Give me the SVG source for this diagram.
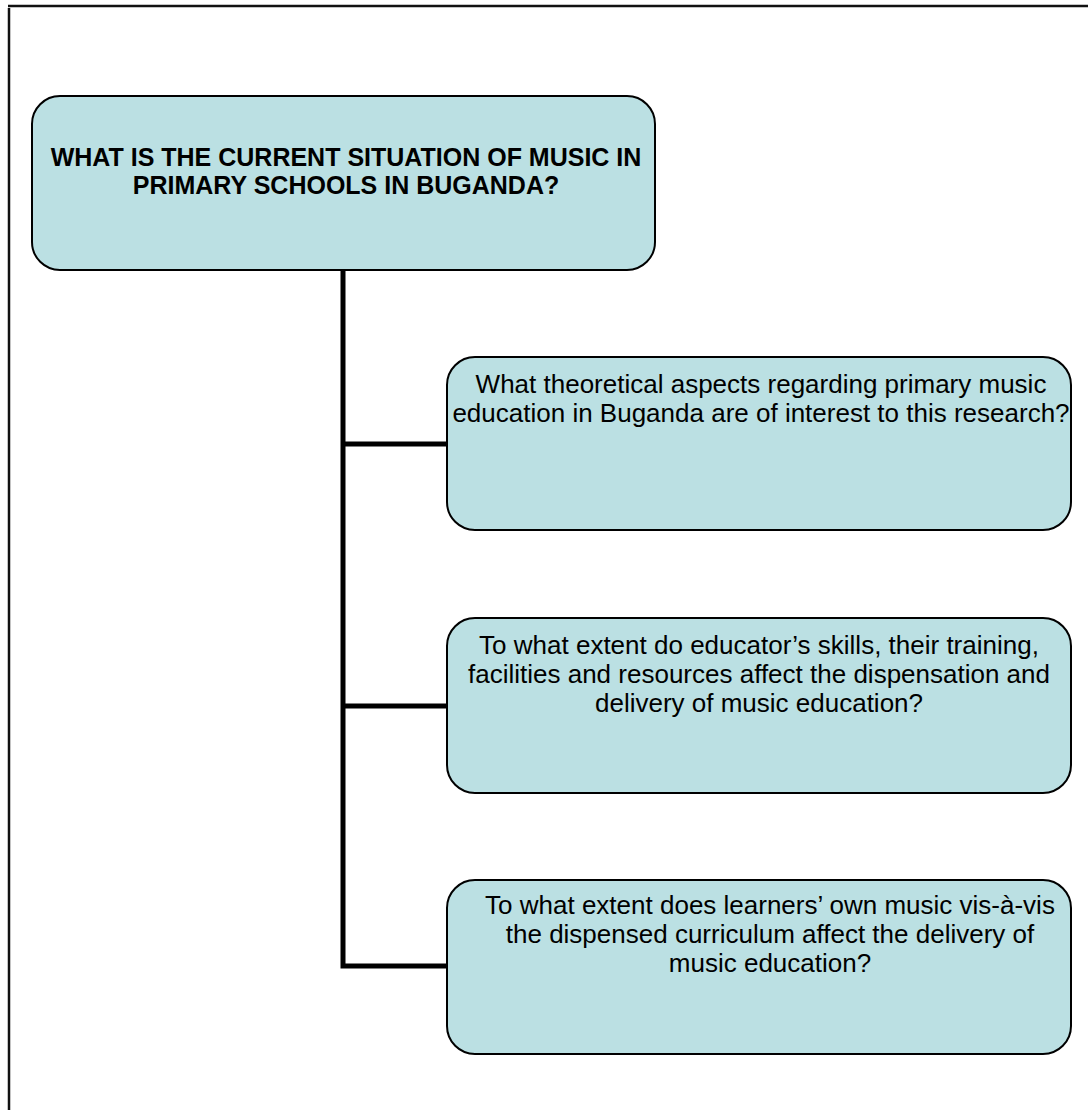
<svg xmlns="http://www.w3.org/2000/svg" width="1088" height="1110" viewBox="0 0 1088 1110">
<style>
.box{fill:#BBE0E3;stroke:#000;stroke-width:2}
.t{font-family:"Liberation Sans",Arial,sans-serif;font-size:26px;fill:#000;text-anchor:middle}
.b{font-weight:bold;font-size:25px}
.c{stroke:#000;stroke-width:5;fill:none}
.f{stroke:#111;stroke-width:2.5;fill:none}
</style>
<rect width="1088" height="1110" fill="#fff"/>
<g id="frame">
<line class="f" x1="8" y1="6" x2="1088" y2="6"/>
<line class="f" x1="9" y1="8" x2="9" y2="1110"/>
</g>
<g id="connectors">
<polyline class="c" points="343,270 343,966 447,966"/>
<line class="c" x1="343" y1="444" x2="447" y2="444"/>
<line class="c" x1="343" y1="706" x2="447" y2="706"/>
</g>
<g id="root">
<rect class="box" x="32" y="96" width="623" height="174" rx="28"/>
<text class="t b" x="346" y="166">WHAT IS THE CURRENT SITUATION OF MUSIC IN</text>
<text class="t b" x="346" y="194">PRIMARY SCHOOLS IN BUGANDA?</text>
</g>
<g id="q1">
<rect class="box" x="447" y="357" width="624" height="173" rx="28"/>
<text class="t" x="761" y="393">What theoretical aspects regarding primary music</text>
<text class="t" x="761" y="422">education in Buganda are of interest to this research?</text>
</g>
<g id="q2">
<rect class="box" x="447" y="618" width="624" height="175" rx="28"/>
<text class="t" x="759" y="654">To what extent do educator’s skills, their training,</text>
<text class="t" x="759" y="683">facilities and resources affect the dispensation and</text>
<text class="t" x="759" y="712">delivery of music education?</text>
</g>
<g id="q3">
<rect class="box" x="447" y="880" width="624" height="174" rx="28"/>
<text class="t" x="770" y="914">To what extent does learners’ own music vis-à-vis</text>
<text class="t" x="770" y="943">the dispensed curriculum affect the delivery of</text>
<text class="t" x="770" y="972">music education?</text>
</g>
</svg>
